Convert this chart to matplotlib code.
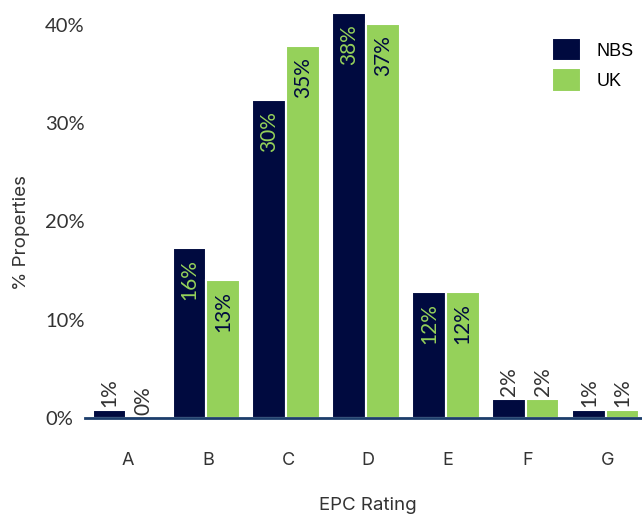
import numpy as np
import matplotlib

matplotlib.use("Agg")
import matplotlib.pyplot as plt

# EPC rating distribution, NBS vs UK
ratings = ["A", "B", "C", "D", "E", "F", "G"]
nbs_heights = [0.8, 17.3, 32.4, 41.2, 12.8, 1.9, 0.8]
uk_heights = [0.0, 14.0, 37.9, 40.1, 12.8, 1.9, 0.8]
nbs_labels = ["1%", "16%", "30%", "38%", "12%", "2%", "1%"]
uk_labels = ["0%", "13%", "35%", "37%", "12%", "2%", "1%"]
yticks = [0, 10, 20, 30, 40]

NAVY = "#000a3f"
GREEN = "#95d15a"
GREY = "#333333"

W, H = 642, 516
fig = plt.figure(figsize=(W / 100, H / 100), dpi=100)
ax = fig.add_axes([85 / W, 1 - 417.7 / H, (651 - 85) / W, (417.7 - 5.3) / H])

x = np.arange(len(ratings))
bw = 0.42
off = 0.025  # groups sit a touch left of the tick
b1 = ax.bar(x - bw / 2 - off, nbs_heights, bw, color=NAVY, edgecolor="white", linewidth=1.5, label="NBS")
b2 = ax.bar(x + bw / 2 - off, uk_heights, bw, color=GREEN, edgecolor="white", linewidth=1.5, label="UK")

# value labels: inside the bar for tall bars, above for short ones
for bars, labels, inner in ((b1, nbs_labels, GREEN), (b2, uk_labels, NAVY)):
    for rect, lab in zip(bars, labels):
        h = rect.get_height()
        cx = rect.get_x() + rect.get_width() / 2
        if h > 5:
            ax.annotate(lab, (cx, h), xytext=(0, -8), textcoords="offset points",
                        rotation=90, ha="center", va="top", color=inner,
                        fontsize=15, family="Lato")
        else:
            ax.annotate(lab, (cx, h), xytext=(0, 2), textcoords="offset points",
                        rotation=90, ha="center", va="bottom", color=GREY,
                        fontsize=15, family="Lato")

ax.set_xlim(-0.54, 6.54)
ax.set_ylim(0, 42)
ax.set_xticks(x)
ax.set_xticklabels(ratings, fontsize=13, family="Inter", color=GREY)
ax.set_yticks(yticks)
ax.set_yticklabels([f"{v}%" for v in yticks], fontsize=14.5, family="Lato", color=GREY, ha="left")
ax.tick_params(axis="y", length=0, pad=28.8)
ax.tick_params(axis="x", length=0, pad=25)

for s in ("top", "right", "left"):
    ax.spines[s].set_visible(False)
ax.spines["bottom"].set_color("#1c3d6b")
ax.spines["bottom"].set_linewidth(2)

fig.text(22 / W, 1 - 233 / H, "% Properties", rotation=90, ha="center", va="center",
         fontsize=13.5, family="Inter", color=GREY)
fig.text(368 / W, 1 - 506 / H, "EPC Rating", ha="center", va="center",
         fontsize=13.5, family="Inter", color=GREY)

fig.legend(handles=[b1, b2], labels=["NBS", "UK"], loc="upper left",
           bbox_to_anchor=(552 / W, 1 - 38 / H), frameon=False,
           borderpad=0, borderaxespad=0, handlelength=1.6, handleheight=1.6,
           handletextpad=0.85, labelspacing=0.4,
           prop={"family": "Liberation Sans", "size": 13})

fig.savefig("out.png", dpi=100)
